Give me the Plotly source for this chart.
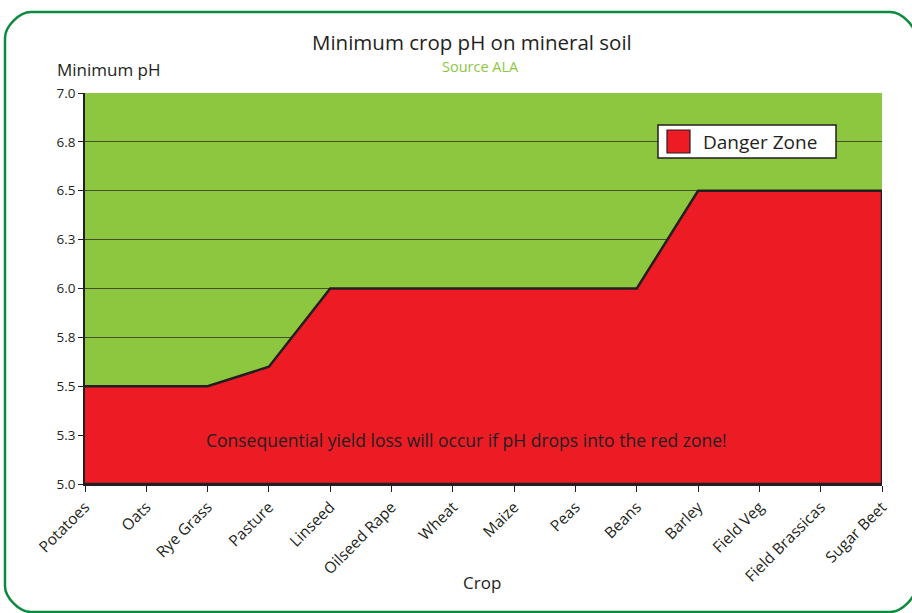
import plotly.graph_objects as go

crops = ["Potatoes", "Oats", "Rye Grass", "Pasture", "Linseed", "Oilseed Rape", "Wheat",
         "Maize", "Peas", "Beans", "Barley", "Field Veg", "Field Brassicas", "Sugar Beet"]
min_ph = [5.5, 5.5, 5.5, 5.6, 6.0, 6.0, 6.0, 6.0, 6.0, 6.0, 6.5, 6.5, 6.5, 6.5]
y_min, y_max = 5.0, 7.0
y_tickvals = [5.0, 5.25, 5.5, 5.75, 6.0, 6.25, 6.5, 6.75, 7.0]
y_ticktext = ["5.0", "5.3", "5.5", "5.8", "6.0", "6.3", "6.5", "6.8", "7.0"]
series_name = "Danger Zone"

W, H = 912, 613
ML, MR, MT, MB = 85, 30, 93, 129
PW, PH = W - ML - MR, H - MT - MB

GREEN = "#8DC63F"
RED = "#ED1C24"
BORDER = "#0E8A3E"
TXT = "#231F20"
FONT = "Open Sans"

def px(x):
    return (x - ML) / PW

def py(y):
    return (H - MB - y) / PH

fig = go.Figure()
fig.add_trace(go.Scatter(
    x=crops + [crops[-1], crops[0]],
    y=min_ph + [y_min, y_min],
    mode="lines",
    fill="toself",
    fillcolor=RED,
    line=dict(color=TXT, width=2.5),
    name=series_name,
    showlegend=False,
    hoverinfo="skip",
))

# rounded border
x0, x1, y0, y1, r = 5, 916, 12, 612, 26
k = 0.45 * r
path = (
    f"M {px(x0)},{py(y0 + r)} "
    f"C {px(x0)},{py(y0 + r - k)} {px(x0 + r - k)},{py(y0)} {px(x0 + r)},{py(y0)} "
    f"L {px(x1 - r)},{py(y0)} "
    f"C {px(x1 - r + k)},{py(y0)} {px(x1)},{py(y0 + r - k)} {px(x1)},{py(y0 + r)} "
    f"L {px(x1)},{py(y1 - r)} "
    f"C {px(x1)},{py(y1 - r + k)} {px(x1 - r + k)},{py(y1)} {px(x1 - r)},{py(y1)} "
    f"L {px(x0 + r)},{py(y1)} "
    f"C {px(x0 + r - k)},{py(y1)} {px(x0)},{py(y1 - r + k)} {px(x0)},{py(y1 - r)} Z"
)

shapes = [
    dict(type="path", xref="paper", yref="paper", path=path,
         line=dict(color=BORDER, width=2.5), fillcolor="rgba(0,0,0,0)", layer="above"),
    # legend box
    dict(type="rect", xref="paper", yref="paper", x0=px(658), x1=px(836), y0=py(125), y1=py(158),
         fillcolor="white", line=dict(color=TXT, width=1.5), layer="above"),
    dict(type="rect", xref="paper", yref="paper", x0=px(667), x1=px(690), y0=py(130), y1=py(153),
         fillcolor=RED, line=dict(color=TXT, width=1.2), layer="above"),
]

fig.update_layout(
    width=W, height=H,
    margin=dict(l=ML, r=MR, t=MT, b=MB, autoexpand=False),
    paper_bgcolor="white",
    plot_bgcolor=GREEN,
    font=dict(family=FONT, color=TXT, size=13),
    showlegend=False,
    xaxis=dict(
        type="category", range=[0, len(crops) - 1],
        tickangle=-45, ticks="outside", ticklen=6, tickcolor=TXT,
        showgrid=False, showline=True, linecolor=TXT, linewidth=2,
        tickfont=dict(size=15.5, color=TXT),
        automargin=False,
    ),
    yaxis=dict(
        range=[y_min, y_max], tickvals=y_tickvals, ticktext=y_ticktext,
        ticks="outside", ticklen=5, tickcolor=TXT,
        showgrid=True, gridcolor="rgba(35,31,32,0.7)", gridwidth=1,
        showline=True, linecolor=TXT, linewidth=1.5,
        tickfont=dict(size=13.5, color=TXT),
        zeroline=False, automargin=False,
    ),
    shapes=shapes,
    annotations=[
        dict(text="Minimum crop pH on mineral soil", x=px(472), y=py(42), xref="paper", yref="paper",
             showarrow=False, font=dict(size=20.5, color=TXT), xanchor="center", yanchor="middle"),
        dict(text="Source ALA", x=px(480), y=py(66), xref="paper", yref="paper",
             showarrow=False, font=dict(size=14.5, color=GREEN), xanchor="center", yanchor="middle"),
        dict(text="Minimum pH", x=px(55), y=py(69), xref="paper", yref="paper",
             showarrow=False, font=dict(size=17, color=TXT), xanchor="left", yanchor="middle"),
        dict(text="Crop", x=px(482), y=py(582), xref="paper", yref="paper",
             showarrow=False, font=dict(size=17, color=TXT), xanchor="center", yanchor="middle"),
        dict(text="Consequential yield loss will occur if pH drops into the red zone!",
             x=px(466), y=py(440), xref="paper", yref="paper",
             showarrow=False, font=dict(size=17.5, color=TXT), xanchor="center", yanchor="middle"),
        dict(text=series_name, x=px(701), y=py(142), xref="paper", yref="paper",
             showarrow=False, font=dict(size=19, color=TXT), xanchor="left", yanchor="middle"),
    ],
)

fig.write_html("out.html", post_script="document.body.style.margin='0';",
               config={"displayModeBar": False})
